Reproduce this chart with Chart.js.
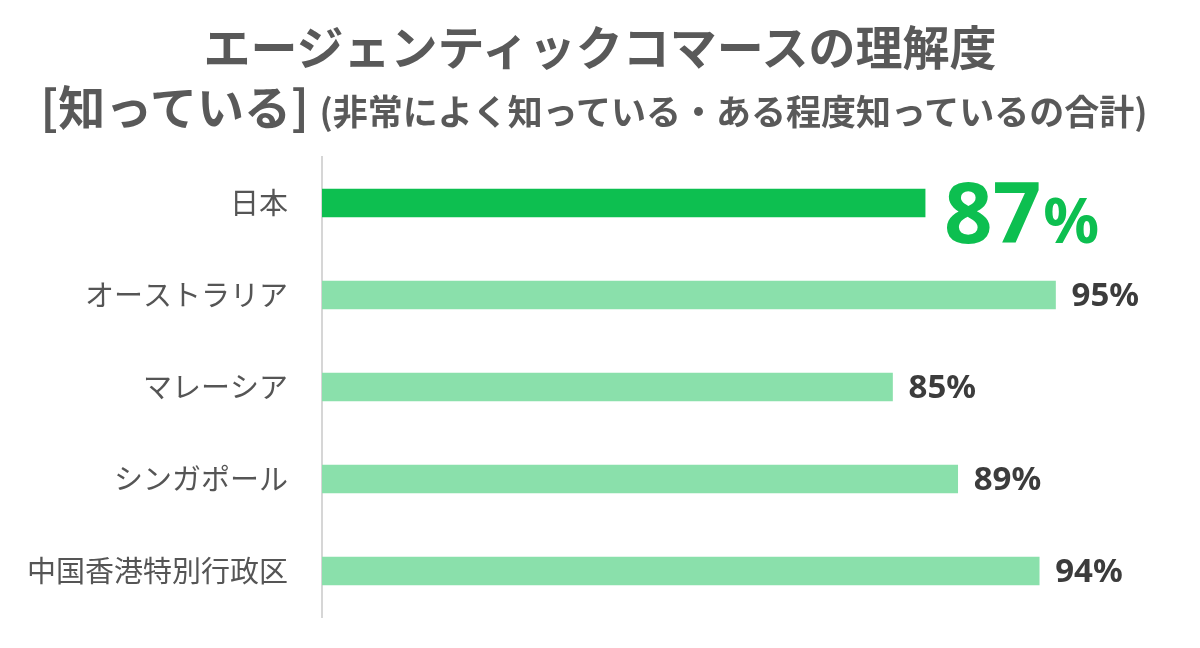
<!DOCTYPE html>
<html lang="ja">
<head>
<meta charset="utf-8">
<script src="https://cdn.jsdelivr.net/npm/chart.js@4/dist/chart.umd.min.js"></script>
<style>
  html, body { margin: 0; padding: 0; background: #fff; }
  #wrap { position: relative; width: 1200px; height: 648px; overflow: hidden; }
  #chart { position: absolute; left: 0; top: 0; }
  .title { position: absolute; left: 0; width: 1200px; text-align: center; color: #595959;
           font-family: "Noto Sans CJK JP", sans-serif; font-weight: 700; white-space: nowrap; }
  #t1 { top: 16px; font-size: 47px; line-height: 58px; }
  #t2 { top: 76px; font-size: 47px; line-height: 58px; left: -6px; }
  #t2 .sub { font-size: 35px; }
</style>
</head>
<body>
<div id="wrap">
  <canvas id="chart" width="1200" height="648"></canvas>
  <div class="title" id="t1">エージェンティックコマースの理解度</div>
  <div class="title" id="t2">[知っている] <span class="sub">(非常によく知っている・ある程度知っているの合計)</span></div>
</div>
<script>
// données
const countries = ['日本', 'オーストラリア', 'マレーシア', 'シンガポール', '中国香港特別行政区'];
const awareness = [87, 95, 85, 89, 94];
const barColors = ['#0dbf50', '#8ae0ab', '#8ae0ab', '#8ae0ab', '#8ae0ab'];

// étiquettes de valeur au bout des barres
const valueLabels = {
    id: 'valueLabels',
    afterDatasetsDraw(chart) {
        const ctx = chart.ctx;
        const meta = chart.getDatasetMeta(0);
        ctx.save();
        meta.data.forEach((bar, i) => {
            const v = awareness[i];
            if (i === 0) {
                // la valeur du Japon est mise en avant
                ctx.fillStyle = barColors[0];
                ctx.textBaseline = 'alphabetic';
                ctx.textAlign = 'left';
                ctx.font = 'bold 85px "Noto Sans"';
                const x = bar.x + 19;
                const y = bar.y + 40;
                ctx.fillText(String(v), x, y);
                const w = ctx.measureText(String(v)).width;
                ctx.font = 'bold 62px "Noto Sans"';
                ctx.fillText('%', x + w + 2, y);
            } else {
                ctx.fillStyle = '#3c3c3c';
                ctx.textBaseline = 'middle';
                ctx.textAlign = 'left';
                ctx.font = 'bold 33px "Noto Sans"';
                ctx.fillText(v + '%', bar.x + 16, bar.y + 2);
            }
        });
        ctx.restore();
    }
};

const ctx = document.getElementById('chart').getContext('2d');
const chart = new Chart(ctx, {
    type: 'bar',
    data: {
        labels: countries,
        datasets: [{
            data: awareness,
            backgroundColor: barColors,
            borderWidth: 0,
            barThickness: 28
        }]
    },
    options: {
        indexAxis: 'y',
        responsive: false,
        animation: false,
        layout: { padding: { top: 157, bottom: 31, left: 0, right: 63 } },
        plugins: {
            legend: { display: false },
            tooltip: { enabled: false }
        },
        scales: {
            x: {
                display: false,
                min: 50,
                max: 100
            },
            y: {
                afterFit: (scale) => {
                    scale.width = 322;
                    // sinon le padding des ticks réduit la zone du graphique
                    scale.paddingTop = 0;
                    scale.paddingBottom = 0;
                },
                grid: { display: false, drawTicks: false },
                border: { display: true, color: '#d6d6d6', width: 2 },
                ticks: {
                    padding: 34,
                    color: '#555555',
                    font: { family: '"Noto Sans CJK JP"', size: 29 }
                }
            }
        }
    },
    plugins: [valueLabels]
});
</script>
</body>
</html>
